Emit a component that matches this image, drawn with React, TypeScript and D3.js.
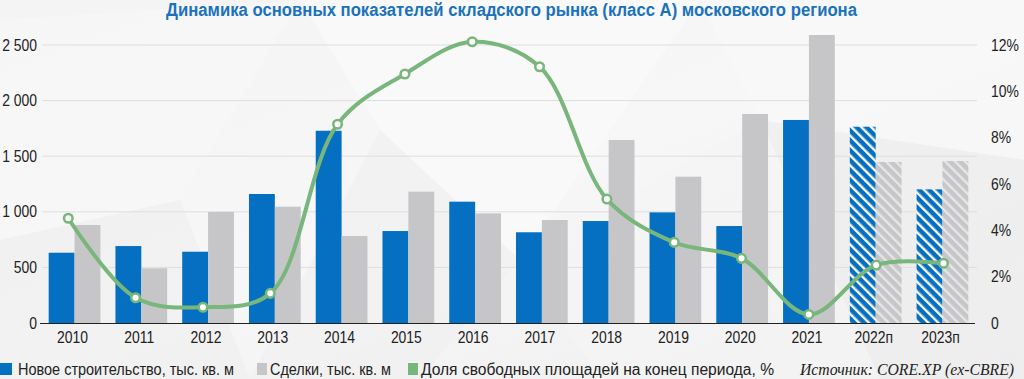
import React from "react";
import * as d3 from "d3";

const categories = ["2010", "2011", "2012", "2013", "2014", "2015", "2016", "2017", "2018", "2019", "2020", "2021", "2022п", "2023п"];
const newConstruction = [632, 692, 641, 1160, 1729, 827, 1091, 816, 917, 995, 872, 1826, 1765, 1202];
const deals = [881, 492, 998, 1046, 782, 1181, 986, 926, 1646, 1316, 1880, 2590, 1448, 1457];
const vacancy = [4.52, 1.09, 0.68, 1.28, 8.58, 10.75, 12.14, 11.06, 5.35, 3.48, 2.79, 0.37, 2.5, 2.58];
const forecast = [false, false, false, false, false, false, false, false, false, false, false, false, true, true];
const leftTicks = [0, 500, 1000, 1500, 2000, 2500];
const rightTicks = [0, 2, 4, 6, 8, 10, 12];

const title = "Динамика основных показателей складского рынка (класс А) московского региона";
const legendItems = ["Новое строительство, тыс. кв. м", "Сделки, тыс. кв. м", "Доля свободных площадей на конец периода, %"];
const source = "Источник: CORE.XP (ex-CBRE)";

const W = 1024;
const H = 379;
const BLUE = "#0570c1";
const GRAY = "#c6c6c9";
const GREEN = "#78b67c";
const SANS = "'Liberation Sans', Arial, Helvetica, sans-serif";
const SX = 0.87;

function NText(props: { x: number; y: number; anchor?: string; children: React.ReactNode; size?: number }) {
  const { x, y, anchor = "start", children, size = 16 } = props;
  return (
    <text
      transform={`translate(${x},${y}) scale(${SX},1)`}
      textAnchor={anchor}
      fontFamily={SANS}
      fontSize={size}
      fill="#222"
    >
      {children}
    </text>
  );
}

export default function App() {
  const left = 42, right = 975, top = 45, bottom = 323;
  const x0 = d3.scaleBand<string>().domain(categories).range([left, right]).paddingInner(0.225).paddingOuter(0.1);
  const x1 = d3.scaleBand<string>().domain(["n", "d"]).range([0, x0.bandwidth()]);
  const yL = d3.scaleLinear().domain([0, 2500]).range([bottom, top]);
  const yR = d3.scaleLinear().domain([0, 12]).range([bottom, top]);
  const xLine = d3.scalePoint<string>().domain(categories).range([68.3, 943.5]);
  const fmt = (v: number) => d3.format(",")(v).replace(/,/g, " ");

  const line = d3
    .line<number>()
    .x((_, i) => xLine(categories[i]) as number)
    .y((d) => yR(d))
    .curve(d3.curveCatmullRom.alpha(0.5));

  return (
    <svg width={W} height={H} style={{ position: "absolute", left: 0, top: 0 }} xmlns="http://www.w3.org/2000/svg">
      <defs>
        <linearGradient id="bg" x1="0" y1="0" x2="1" y2="1">
          <stop offset="0" stopColor="#f4f4f4" />
          <stop offset="0.5" stopColor="#f7f7f7" />
          <stop offset="1" stopColor="#ededed" />
        </linearGradient>
        <pattern id="hatchBlue" patternUnits="userSpaceOnUse" width="7" height="7" patternTransform="rotate(-45)">
          <rect width="7" height="7" fill={BLUE} />
          <rect x="0" y="0" width="2.4" height="7" fill="#ffffff" />
        </pattern>
        <pattern id="hatchGray" patternUnits="userSpaceOnUse" width="7" height="7" patternTransform="rotate(-45)">
          <rect width="7" height="7" fill={GRAY} />
          <rect x="0" y="0" width="2.4" height="7" fill="#e6e6e7" />
        </pattern>
      </defs>
      <rect width={W} height={H} fill="url(#bg)" />
      <g opacity="0.7">
        <polygon points="0,20 300,0 180,200 0,240" fill="#f8f8f8" />
        <polygon points="300,0 700,0 520,260 380,130" fill="#fbfbfb" />
        <polygon points="380,130 520,260 420,379 250,379" fill="#f1f1f1" />
        <polygon points="700,0 1024,0 1024,160 760,120" fill="#f9f9f9" />
        <polygon points="760,120 1024,160 1024,379 880,379" fill="#eeeeee" />
        <polygon points="520,260 760,120 880,379 600,379" fill="#f5f5f5" />
        <polygon points="0,240 180,200 250,379 0,379" fill="#f0f0f0" />
      </g>
      <text x={166} y={16} textLength={691} lengthAdjust="spacingAndGlyphs" fontFamily={SANS} fontWeight="bold" fontSize={18} fill="#1a72bb">
        {title}
      </text>
      {leftTicks.filter((t) => t > 0).map((t) => (
        <line key={"g" + t} x1={left} x2={977} y1={yL(t)} y2={yL(t)} stroke="#dedede" strokeWidth={1} />
      ))}
      {categories.map((c, i) => {
        const gx = x0(c) as number;
        return (
          <g key={c}>
            <rect
              x={gx + (x1("n") as number)}
              y={yL(newConstruction[i])}
              width={x1.bandwidth()}
              height={bottom - yL(newConstruction[i])}
              fill={forecast[i] ? "url(#hatchBlue)" : BLUE}
            />
            <rect
              x={gx + (x1("d") as number)}
              y={yL(deals[i])}
              width={x1.bandwidth()}
              height={bottom - yL(deals[i])}
              fill={forecast[i] ? "url(#hatchGray)" : GRAY}
            />
            <NText x={gx + x0.bandwidth() / 2 - 2} y={342.5} anchor="middle">
              {c}
            </NText>
          </g>
        );
      })}
      <line x1={40} x2={975} y1={bottom + 0.5} y2={bottom + 0.5} stroke="#222" strokeWidth={1.2} />
      {leftTicks.map((t) => (
        <NText key={"l" + t} x={37} y={yL(t) + 5.5} anchor="end">
          {fmt(t)}
        </NText>
      ))}
      {rightTicks.map((t) => (
        <NText key={"r" + t} x={991} y={yR(t) + 5.5} anchor="start">
          {t === 0 ? "0" : t + "%"}
        </NText>
      ))}
      <path d={line(vacancy) || ""} fill="none" stroke={GREEN} strokeWidth={4} strokeLinejoin="round" />
      {vacancy.map((v, i) => (
        <circle key={"p" + i} cx={xLine(categories[i])} cy={yR(v)} r={4.3} fill="#fff" stroke={GREEN} strokeWidth={2.5} />
      ))}
      <rect x={0} y={363} width={12} height={12} fill={BLUE} />
      <text x={18} y={375} textLength={216} lengthAdjust="spacingAndGlyphs" fontFamily={SANS} fontSize={16} fill="#222">
        {legendItems[0]}
      </text>
      <rect x={257} y={363} width={10} height={12} fill={GRAY} />
      <text x={270} y={375} textLength={121} lengthAdjust="spacingAndGlyphs" fontFamily={SANS} fontSize={16} fill="#222">
        {legendItems[1]}
      </text>
      <rect x={408} y={363} width={10} height={12} fill={GREEN} />
      <text x={421} y={375} textLength={353} lengthAdjust="spacingAndGlyphs" fontFamily={SANS} fontSize={16} fill="#222">
        {legendItems[2]}
      </text>
      <text x={800} y={375} textLength={214} lengthAdjust="spacingAndGlyphs" fontFamily="'Liberation Serif', 'DejaVu Serif', serif" fontStyle="italic" fontSize={16} fill="#222">
        {source}
      </text>
    </svg>
  );
}
